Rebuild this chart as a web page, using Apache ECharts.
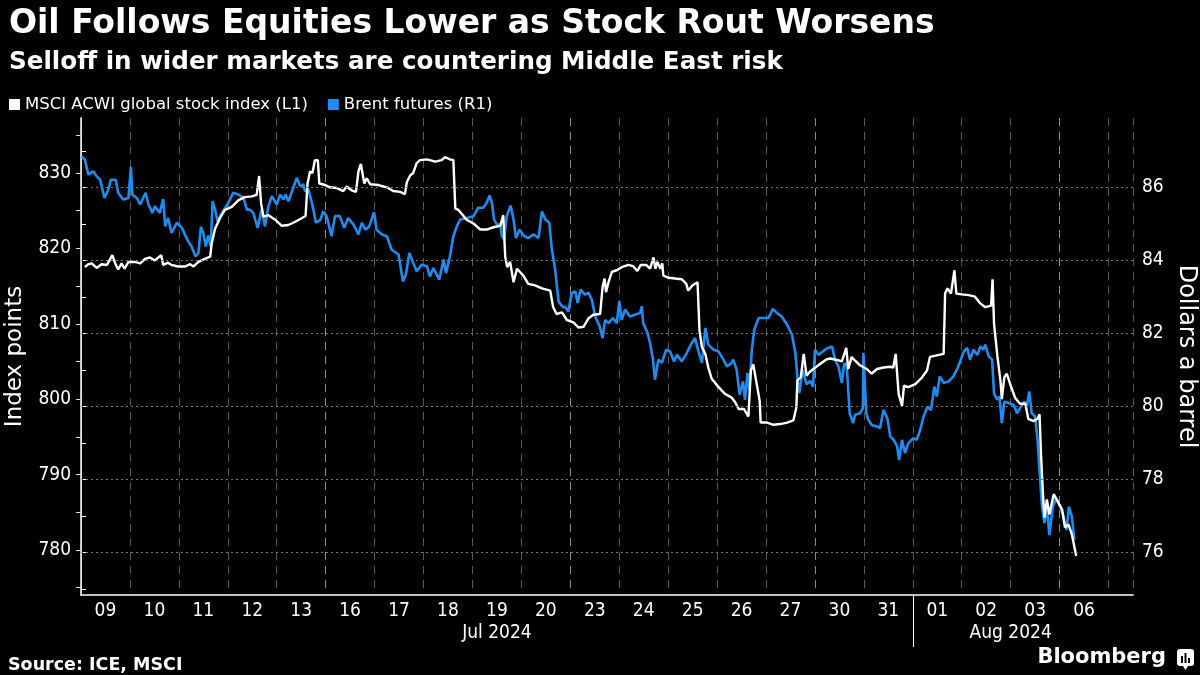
<!DOCTYPE html>
<html>
<head>
<meta charset="utf-8">
<title>Oil Follows Equities Lower as Stock Rout Worsens</title>
<script src="https://cdn.jsdelivr.net/npm/echarts@6.0.0/dist/echarts.min.js"></script>
<style>
  html, body { margin: 0; padding: 0; background: #000; }
  #chart { width: 1200px; height: 675px; }
</style>
</head>
<body>
<div id="chart"></div>
<script>
// Trading sessions on the x axis, one band each (weekends skipped)
const dayLabels = ['09', '10', '11', '12', '13', '16', '17', '18', '19', '20',
    '23', '24', '25', '26', '27', '30', '31', '01', '02', '03', '06'];
const monthLabels = ['Jul 2024', 'Aug 2024'];
const monthStarts = [0, 17];

// Axis ticks and labels
const msciTicks = [775, 780, 785, 790, 795, 800, 805, 810, 815, 820, 825, 830, 835];
const msciLabels = [780, 790, 800, 810, 820, 830];
const brentTicks = [75, 76, 77, 78, 79, 80, 81, 82, 83, 84, 85, 86, 87];
const brentLabels = [76, 78, 80, 82, 84, 86];

// MSCI ACWI (L1): position in sessions from 09 Jul, index points
const msciDay = [
    0.08, 0.15, 0.22, 0.32, 0.42, 0.53, 0.64, 0.70, 0.76, 0.83,
    0.89, 0.97, 1.10, 1.21, 1.31, 1.41, 1.51, 1.64, 1.68, 1.78,
    1.85, 1.99, 2.13, 2.23, 2.30, 2.40, 2.53, 2.64, 2.67, 2.74,
    2.84, 2.94, 3.08, 3.22, 3.35, 3.49, 3.59, 3.64, 3.68, 3.73,
    3.83, 3.97, 4.10, 4.24, 4.37, 4.51, 4.59, 4.63, 4.68, 4.73,
    4.78, 4.84, 4.87, 4.99, 5.09, 5.23, 5.36, 5.43, 5.53, 5.62,
    5.67, 5.72, 5.79, 5.84, 5.91, 6.08, 6.25, 6.38, 6.52, 6.62,
    6.66, 6.73, 6.79, 6.86, 6.93, 7.07, 7.24, 7.37, 7.44, 7.54,
    7.61, 7.65, 7.71, 7.78, 7.88, 8.02, 8.16, 8.29, 8.43, 8.57,
    8.63, 8.67, 8.71, 8.77, 8.84, 8.91, 9.04, 9.14, 9.28, 9.42,
    9.59, 9.65, 9.72, 9.83, 9.93, 10.06, 10.17, 10.27, 10.37, 10.47,
    10.61, 10.66, 10.70, 10.73, 10.78, 10.85, 10.95, 11.05, 11.19, 11.29,
    11.37, 11.44, 11.55, 11.63, 11.70, 11.74, 11.78, 11.84, 11.88, 11.90,
    12.01, 12.14, 12.28, 12.37, 12.41, 12.50, 12.60, 12.64, 12.69, 12.76,
    12.82, 12.89, 13.03, 13.16, 13.30, 13.37, 13.44, 13.55, 13.64, 13.69,
    13.74, 13.81, 13.87, 13.89, 14.02, 14.15, 14.29, 14.43, 14.56, 14.62,
    14.64, 14.71, 14.77, 14.83, 14.89, 14.97, 15.11, 15.24, 15.31, 15.45,
    15.55, 15.64, 15.68, 15.75, 15.82, 15.92, 16.06, 16.16, 16.27, 16.40,
    16.54, 16.60, 16.65, 16.71, 16.78, 16.82, 16.91, 17.05, 17.19, 17.29,
    17.35, 17.49, 17.63, 17.66, 17.71, 17.78, 17.85, 17.89, 18.00, 18.14,
    18.27, 18.38, 18.48, 18.60, 18.63, 18.66, 18.73, 18.79, 18.82, 18.87,
    18.92, 18.99, 19.09, 19.19, 19.30, 19.36, 19.47, 19.55, 19.59, 19.62,
    19.66, 19.69, 19.74, 19.79, 19.88, 19.94, 20.05, 20.11, 20.18, 20.25,
    20.34
];
const msciIdx = [
    817.5, 817.9, 818.0, 817.4, 817.9, 817.8, 819.1, 818.0, 817.2, 818.0,
    817.3, 818.2, 818.2, 818.0, 818.6, 818.8, 818.4, 819.1, 817.8, 818.1,
    817.8, 817.6, 817.6, 817.9, 817.6, 818.2, 818.6, 818.9, 820.6, 822.6,
    824.0, 825.1, 825.5, 826.4, 826.8, 826.9, 827.1, 829.6, 826.0, 824.2,
    824.4, 823.8, 823.0, 823.1, 823.5, 824.0, 824.3, 828.6, 830.2, 830.0,
    831.7, 831.7, 828.6, 828.4, 828.1, 828.0, 827.6, 828.2, 827.7, 827.5,
    830.2, 831.2, 828.6, 829.3, 828.5, 828.4, 828.1, 827.6, 827.5, 827.2,
    828.8, 829.7, 830.0, 831.3, 831.7, 831.8, 831.5, 831.7, 832.1, 831.8,
    831.7, 825.3, 825.1, 824.6, 823.8, 823.3, 822.5, 822.5, 822.8, 823.0,
    824.4, 818.9, 817.5, 818.2, 815.5, 817.3, 816.4, 815.3, 815.1, 814.7,
    814.4, 812.2, 811.3, 811.5, 810.5, 810.2, 809.5, 809.6, 810.7, 811.2,
    811.3, 814.9, 816.0, 814.2, 815.5, 816.9, 817.1, 817.5, 817.8, 817.6,
    817.0, 817.8, 817.8, 817.3, 818.8, 817.3, 818.2, 817.3, 818.0, 816.4,
    816.1, 816.0, 815.9, 815.3, 814.4, 815.1, 815.5, 809.1, 806.9, 806.0,
    804.2, 802.7, 801.6, 800.7, 800.2, 799.6, 798.7, 798.7, 797.7, 803.8,
    804.6, 802.0, 799.8, 796.9, 796.9, 796.6, 796.7, 796.9, 797.2, 798.9,
    802.5, 802.9, 806.0, 803.1, 803.6, 804.0, 804.7, 805.3, 805.4, 805.2,
    805.0, 806.8, 804.0, 805.6, 805.1, 804.5, 804.0, 803.4, 804.0, 804.2,
    804.3, 804.2, 806.0, 800.7, 799.1, 801.8, 801.6, 802.0, 802.9, 803.8,
    805.6, 805.8, 806.0, 814.0, 814.7, 814.0, 817.1, 814.0, 813.9, 813.8,
    813.6, 812.7, 812.2, 812.4, 815.9, 810.0, 805.6, 802.5, 800.0, 802.9,
    803.4, 802.0, 800.2, 799.4, 799.4, 797.4, 797.1, 797.4, 798.0, 792.7,
    787.4, 784.3, 786.7, 784.7, 787.4, 786.7, 785.4, 783.0, 783.4, 782.1,
    779.2
];

// Brent futures (R1): position in sessions from 09 Jul, dollars a barrel
const brentDay = [
    0.01, 0.08, 0.15, 0.25, 0.32, 0.39, 0.48, 0.56, 0.61, 0.71,
    0.76, 0.86, 0.97, 1.02, 1.05, 1.14, 1.21, 1.32, 1.38, 1.46,
    1.51, 1.61, 1.68, 1.72, 1.78, 1.85, 1.96, 2.06, 2.19, 2.26,
    2.34, 2.40, 2.45, 2.50, 2.55, 2.60, 2.65, 2.69, 2.74, 2.79,
    2.88, 3.01, 3.11, 3.22, 3.32, 3.39, 3.45, 3.52, 3.61, 3.69,
    3.76, 3.83, 3.90, 4.00, 4.07, 4.14, 4.18, 4.24, 4.34, 4.41,
    4.48, 4.54, 4.58, 4.65, 4.70, 4.75, 4.80, 4.89, 4.95, 5.02,
    5.12, 5.19, 5.29, 5.38, 5.46, 5.57, 5.67, 5.74, 5.81, 5.89,
    5.99, 6.04, 6.15, 6.25, 6.35, 6.49, 6.58, 6.64, 6.71, 6.79,
    6.86, 6.96, 7.07, 7.13, 7.20, 7.32, 7.41, 7.46, 7.54, 7.61,
    7.68, 7.75, 7.88, 8.02, 8.12, 8.22, 8.29, 8.35, 8.40, 8.44,
    8.50, 8.57, 8.60, 8.65, 8.70, 8.78, 8.84, 8.89, 8.96, 9.06,
    9.14, 9.25, 9.35, 9.42, 9.49, 9.57, 9.62, 9.69, 9.76, 9.83,
    9.91, 9.96, 10.03, 10.10, 10.15, 10.21, 10.30, 10.37, 10.44, 10.51,
    10.60, 10.66, 10.71, 10.78, 10.87, 10.95, 11.00, 11.05, 11.12, 11.22,
    11.32, 11.43, 11.46, 11.49, 11.58, 11.63, 11.69, 11.73, 11.80, 11.87,
    11.96, 12.04, 12.12, 12.18, 12.28, 12.38, 12.48, 12.55, 12.62, 12.69,
    12.76, 12.82, 12.93, 13.03, 13.13, 13.20, 13.30, 13.33, 13.40, 13.46,
    13.53, 13.57, 13.62, 13.66, 13.71, 13.76, 13.85, 13.95, 14.05, 14.14,
    14.22, 14.32, 14.43, 14.53, 14.60, 14.64, 14.68, 14.75, 14.83, 14.90,
    14.96, 15.00, 15.07, 15.14, 15.24, 15.35, 15.41, 15.48, 15.55, 15.60,
    15.65, 15.71, 15.78, 15.82, 15.92, 15.98, 15.99, 16.05, 16.09, 16.16,
    16.27, 16.33, 16.40, 16.48, 16.54, 16.61, 16.68, 16.72, 16.78, 16.84,
    16.91, 17.01, 17.08, 17.15, 17.22, 17.30, 17.37, 17.44, 17.49, 17.55,
    17.63, 17.73, 17.83, 17.93, 18.04, 18.11, 18.17, 18.24, 18.32, 18.38,
    18.44, 18.48, 18.55, 18.62, 18.66, 18.72, 18.77, 18.82, 18.87, 18.96,
    19.06, 19.13, 19.19, 19.28, 19.33, 19.38, 19.43, 19.50, 19.55, 19.59,
    19.64, 19.69, 19.74, 19.79, 19.86, 19.93, 20.01, 20.08, 20.14, 20.19,
    20.25, 20.30
];
const brentUsd = [
    86.85, 86.76, 86.35, 86.44, 86.30, 86.21, 85.71, 85.94, 86.21, 86.21,
    85.85, 85.67, 85.71, 86.56, 85.80, 85.71, 85.53, 85.85, 85.53, 85.30,
    85.48, 85.30, 85.68, 84.93, 85.16, 84.75, 85.03, 84.89, 84.52, 84.38,
    84.11, 84.20, 84.92, 84.75, 84.38, 84.68, 84.38, 85.62, 85.39, 85.07,
    85.30, 85.57, 85.85, 85.80, 85.71, 85.39, 85.39, 85.30, 84.89, 85.39,
    84.93, 85.48, 85.76, 85.53, 85.80, 85.67, 85.80, 85.62, 85.99, 86.26,
    86.03, 86.08, 85.89, 85.94, 85.67, 85.39, 85.03, 85.10, 85.34, 85.21,
    84.66, 85.21, 85.21, 84.89, 85.16, 84.98, 84.71, 85.03, 84.84, 84.93,
    85.32, 84.84, 84.71, 84.66, 84.29, 84.16, 83.42, 83.61, 84.20, 83.93,
    83.70, 83.88, 83.84, 83.56, 83.79, 83.47, 84.02, 83.65, 84.11, 84.66,
    84.93, 85.12, 85.16, 85.21, 85.44, 85.44, 85.57, 85.78, 85.57, 85.12,
    84.98, 84.98, 84.66, 84.57, 85.21, 85.50, 85.12, 84.61, 84.84, 84.66,
    84.61, 84.71, 84.61, 85.34, 85.12, 85.03, 84.34, 83.74, 82.88, 82.74,
    82.70, 82.60, 83.10, 83.15, 82.83, 83.20, 83.06, 83.11, 82.92, 82.46,
    82.19, 81.87, 82.37, 82.28, 82.42, 82.28, 82.88, 82.37, 82.65, 82.46,
    82.51, 82.56, 82.74, 82.28, 82.01, 81.73, 81.28, 80.73, 81.28, 81.19,
    81.55, 81.50, 81.23, 81.41, 81.23, 81.46, 81.73, 81.87, 81.50, 81.19,
    82.15, 81.69, 81.55, 81.50, 81.28, 81.09, 81.19, 81.28, 81.00, 80.32,
    80.68, 80.18, 80.91, 80.45, 81.55, 82.10, 82.42, 82.42, 82.42, 82.67,
    82.56, 82.46, 82.24, 81.96, 81.46, 80.82, 80.36, 81.00, 80.60, 80.70,
    80.54, 81.55, 81.41, 81.48, 81.58, 81.64, 81.28, 81.09, 80.64, 81.19,
    81.09, 79.81, 79.54, 79.77, 79.81, 79.95, 81.46, 79.81, 79.63, 79.49,
    79.45, 79.40, 79.90, 79.67, 79.17, 79.08, 78.90, 78.53, 79.08, 78.72,
    78.99, 79.13, 79.08, 79.35, 79.72, 79.99, 79.90, 80.54, 80.27, 80.82,
    80.64, 80.68, 80.82, 81.09, 81.50, 81.60, 81.28, 81.55, 81.41, 81.64,
    81.55, 81.69, 81.37, 81.28, 80.36, 80.18, 80.27, 79.54, 80.13, 80.09,
    80.04, 79.81, 79.95, 80.13, 79.99, 80.41, 79.81, 79.72, 79.08, 78.26,
    77.25, 76.80, 77.25, 76.47, 77.25, 77.48, 77.25, 76.98, 76.61, 77.25,
    76.98, 76.34
];

const FONT = 'DejaVu Sans';
const FONT_NARROW = 'DejaVu Sans Condensed';
const BLUE = '#1f8cf0';

const chart = echarts.init(document.getElementById('chart'), null, { renderer: 'canvas' });

// label positions: middle of each session band, middle of each month
const dayCenters = dayLabels.map((d, i) => i + 0.5);
const monthCenters = monthStarts.map((s, i) => {
    const end = i + 1 < monthStarts.length ? monthStarts[i + 1] : dayLabels.length;
    return (s + end) / 2;
});
const xMax = dayLabels.length + 0.5;

const option = {
    backgroundColor: '#000',
    animation: false,
    textStyle: { fontFamily: FONT_NARROW, color: '#fff' },
    title: [
        {
            text: 'Oil Follows Equities Lower as Stock Rout Worsens',
            left: 4, top: 3,
            textStyle: { color: '#fff', fontFamily: FONT, fontWeight: 'bold', fontSize: 33 }
        },
        {
            text: 'Selloff in wider markets are countering Middle East risk',
            left: 4, top: 45,
            textStyle: { color: '#fff', fontFamily: FONT, fontWeight: 'bold', fontSize: 24.6 }
        },
        {
            text: 'Source: ICE, MSCI',
            left: 3, top: 651,
            textStyle: { color: '#fff', fontFamily: FONT, fontWeight: 'bold', fontSize: 17.5 }
        }
    ],
    legend: {
        left: 4, top: 91,
        icon: 'rect',
        itemWidth: 11, itemHeight: 11, itemGap: 20,
        data: ['MSCI ACWI global stock index (L1)', 'Brent futures (R1)'],
        textStyle: { color: '#fff', fontFamily: FONT, fontSize: 16.5 }
    },
    grid: {
        left: 81, right: 67, top: 118, bottom: 80,
        containLabel: false,
        outerBoundsMode: 'none'
    },
    xAxis: [
        {
            type: 'value',
            min: 0, max: xMax, interval: 1,
            axisLine: { show: true, lineStyle: { color: '#fff', width: 1.5 } },
            axisTick: { show: false },
            axisLabel: {
                customValues: dayCenters,
                formatter: v => dayLabels[Math.round(v - 0.5)] || '',
                color: '#fff', fontFamily: FONT_NARROW, fontSize: 19, margin: 7
            },
            splitLine: {
                show: true,
                lineStyle: { color: ['#8a8a8a', '#555', '#555', '#555', '#555'], type: [8, 6], width: 1 }
            }
        },
        {
            type: 'value',
            position: 'bottom',
            min: 0, max: xMax,
            axisLine: { show: false },
            axisTick: { show: true, customValues: [monthStarts[1]], length: 52, lineStyle: { color: '#fff', width: 1 } },
            axisLabel: {
                customValues: monthCenters,
                formatter: v => monthLabels[monthCenters.indexOf(v)] || '',
                color: '#fff', fontFamily: FONT_NARROW, fontSize: 19, margin: 29
            },
            splitLine: { show: false }
        }
    ],
    yAxis: [
        {
            type: 'value',
            position: 'left',
            min: 774.03, max: 837.29,
            name: 'Index points',
            nameLocation: 'middle',
            nameRotate: 90,
            nameGap: 54,
            nameTextStyle: { color: '#fff', fontFamily: FONT, fontSize: 23 },
            axisLine: { show: true, lineStyle: { color: '#888', width: 1 } },
            axisTick: { show: true, customValues: msciTicks, length: 5, lineStyle: { color: '#ddd' } },
            axisLabel: { customValues: msciLabels, color: '#fff', fontFamily: FONT_NARROW, fontSize: 19, margin: 10 },
            splitLine: { show: false }
        },
        {
            type: 'value',
            position: 'right',
            min: 74.83, max: 87.9,
            name: 'Dollars a barrel',
            nameLocation: 'middle',
            nameRotate: -90,
            nameGap: 40,
            nameTextStyle: { color: '#fff', fontFamily: FONT, fontSize: 24 },
            axisLine: { show: true, lineStyle: { color: '#fff', width: 1.5 } },
            axisTick: { show: true, customValues: brentTicks, length: 5, lineStyle: { color: '#fff' } },
            axisLabel: { customValues: brentLabels, color: '#fff', fontFamily: FONT_NARROW, fontSize: 19, margin: 9 },
            splitLine: { show: false }
        }
    ],
    series: [
        {
            name: 'Brent futures (R1)',
            type: 'line',
            yAxisIndex: 1,
            showSymbol: false,
            data: brentDay.map((d, i) => [d, brentUsd[i]]),
            lineStyle: { color: BLUE, width: 2.6 },
            itemStyle: { color: BLUE },
            z: 2,
            markLine: {
                silent: true,
                symbol: ['none', 'none'],
                label: { show: false },
                lineStyle: { color: '#777', type: [2, 3], width: 1 },
                data: brentLabels.map(v => ({ yAxis: v }))
            }
        },
        {
            name: 'MSCI ACWI global stock index (L1)',
            type: 'line',
            yAxisIndex: 0,
            showSymbol: false,
            data: msciDay.map((d, i) => [d, msciIdx[i]]),
            lineStyle: { color: '#fff', width: 2.4 },
            itemStyle: { color: '#fff' },
            z: 3
        }
    ],
    graphic: [
        {
            type: 'text',
            right: 34, top: 647,
            style: { text: 'Bloomberg', fill: '#fff', font: '600 21px "DejaVu Sans"' }
        },
        {
            type: 'group',
            right: 6, top: 649,
            children: [
                { type: 'rect', shape: { x: 0, y: 0, width: 17, height: 17, r: 3 }, style: { fill: '#fff' } },
                { type: 'polygon', shape: { points: [[6, 17], [11, 17], [8.5, 21]] }, style: { fill: '#fff' } },
                { type: 'rect', shape: { x: 4, y: 7, width: 2, height: 7 }, style: { fill: '#000' } },
                { type: 'rect', shape: { x: 7.5, y: 4, width: 2, height: 10 }, style: { fill: '#000' } },
                { type: 'rect', shape: { x: 11, y: 9, width: 2, height: 5 }, style: { fill: '#000' } }
            ]
        }
    ]
};

chart.setOption(option);
</script>
</body>
</html>
